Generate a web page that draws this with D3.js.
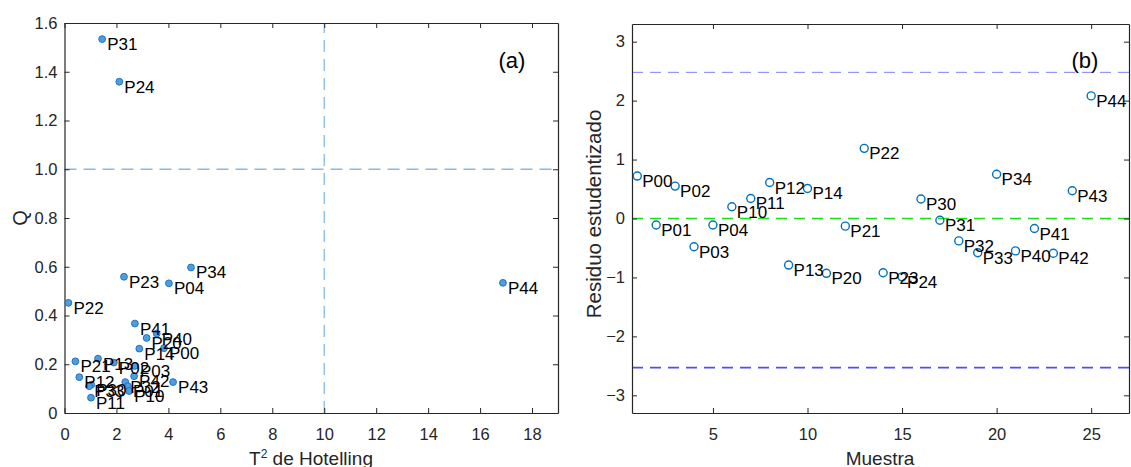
<!DOCTYPE html>
<html>
<head>
<meta charset="utf-8">
<script src="https://cdn.jsdelivr.net/npm/d3@7"></script>
<style>
  body { margin: 0; background: #fff; }
  svg text { font-family: "Liberation Sans", Arial, sans-serif; }
</style>
</head>
<body>
<div id="chart"></div>
<script>
// panel (a): T2 vs Q  (hidden labels first so the visible ones draw on top)
const pointLabels = ["P30", "P32", "P01", "P31", "P24", "P23", "P04", "P34", "P44", "P22", "P41", "P40", "P20",
                     "P14", "P00", "P21", "P13", "P02", "P03", "P12", "P33", "P11", "P10", "P42", "P43"];
const t2Values = [1.03, 2.34, 2.44, 1.45, 2.11, 2.29, 4.02, 4.87, 16.88, 0.15, 2.71, 3.55, 3.16,
                  2.88, 3.83, 0.42, 1.29, 1.90, 2.71, 0.57, 0.95, 1.02, 2.49, 2.68, 4.18];
const qValues = [0.116, 0.127, 0.110, 1.534, 1.359, 0.559, 0.532, 0.597, 0.534, 0.452, 0.367, 0.326, 0.308,
                 0.264, 0.266, 0.212, 0.223, 0.207, 0.193, 0.147, 0.110, 0.063, 0.090, 0.151, 0.127];
const t2Limit = 10;
const qLimit = 1.0;

// panel (b): studentized residuals per sample
const sampleLabels = ["P00", "P01", "P02", "P03", "P04", "P10", "P11", "P12", "P13", "P14",
                      "P20", "P21", "P22", "P23", "P24", "P30", "P31", "P32", "P33", "P34",
                      "P40", "P41", "P42", "P43", "P44"];
const residValues = [0.72, -0.11, 0.55, -0.48, -0.11, 0.20, 0.34, 0.61, -0.79, 0.51,
                     -0.93, -0.13, 1.19, -0.92, -0.99, 0.33, -0.03, -0.38, -0.58, 0.75,
                     -0.55, -0.17, -0.59, 0.47, 2.08];
const residUpper = 2.48;
const residLower = -2.53;

// ticks
const t2Ticks = [0, 2, 4, 6, 8, 10, 12, 14, 16, 18];
const qTicks = [0, 0.2, 0.4, 0.6, 0.8, 1.0, 1.2, 1.4, 1.6];
const sampleTicks = [5, 10, 15, 20, 25];
const residTicks = [-3, -2, -1, 0, 1, 2, 3];

const W = 1131, H = 467;
const axisColor = "#262626";

const svg = d3.select("#chart").append("svg")
    .attr("width", W)
    .attr("height", H);

function drawFrame(g, x, y, xTicks, yTicks, xFmt, yFmt) {
    const [x0, x1] = x.range();
    const [y0, y1] = y.range();

    g.append("g")
        .attr("transform", "translate(0," + y0 + ")")
        .call(d3.axisBottom(x).tickValues(xTicks).tickFormat(xFmt)
              .tickSizeInner(-5).tickSizeOuter(0).tickPadding(15));
    g.append("g")
        .attr("transform", "translate(0," + y1 + ")")
        .call(d3.axisTop(x).tickValues(xTicks).tickFormat("")
              .tickSizeInner(-5).tickSizeOuter(0));
    g.append("g")
        .attr("transform", "translate(" + x0 + ",0)")
        .call(d3.axisLeft(y).tickValues(yTicks).tickFormat(yFmt)
              .tickSizeInner(-5).tickSizeOuter(0).tickPadding(7));
    g.append("g")
        .attr("transform", "translate(" + x1 + ",0)")
        .call(d3.axisRight(y).tickValues(yTicks).tickFormat("")
              .tickSizeInner(-5).tickSizeOuter(0));

    g.selectAll(".domain").attr("stroke", axisColor).attr("stroke-width", 1.2);
    g.selectAll(".tick line").attr("stroke", axisColor);
    g.selectAll(".tick text")
        .attr("fill", axisColor)
        .style("font-size", "16.5px")
        .style("font-family", "'Liberation Sans', Arial, sans-serif");
}

// ---------- panel (a)
const xa = d3.scaleLinear().domain([0, 19]).range([64.5, 558]);
const ya = d3.scaleLinear().domain([0, 1.6]).range([413, 23]);
const ga = svg.append("g");

ga.append("line")
    .attr("x1", xa(t2Limit)).attr("x2", xa(t2Limit))
    .attr("y1", ya(0)).attr("y2", ya(1.6))
    .attr("stroke", "#86bbe6").attr("stroke-width", 1.3)
    .attr("stroke-dasharray", "12,7");
ga.append("line")
    .attr("x1", xa(0)).attr("x2", xa(19))
    .attr("y1", ya(qLimit)).attr("y2", ya(qLimit))
    .attr("stroke", "#86bbe6").attr("stroke-width", 1.3)
    .attr("stroke-dasharray", "12,7");

drawFrame(ga, xa, ya, t2Ticks, qTicks, d3.format("d"),
          d => d === 0 ? "0" : d3.format(".1f")(d));

const ptsA = pointLabels.map((lab, i) => ({ label: lab, t2: t2Values[i], q: qValues[i] }));

ga.selectAll("circle.pt")
    .data(ptsA)
    .enter().append("circle")
    .attr("class", "pt")
    .attr("cx", d => xa(d.t2))
    .attr("cy", d => ya(d.q))
    .attr("r", 3.4)
    .attr("fill", "#4d9de0")
    .attr("stroke", "#1f74c4")
    .attr("stroke-width", 1);

ga.selectAll("text.lab")
    .data(ptsA)
    .enter().append("text")
    .attr("class", "lab")
    .attr("x", d => xa(d.t2) + 5)
    .attr("y", d => ya(d.q) + 11)
    .attr("font-size", "17px")
    .attr("fill", "#000")
    .text(d => d.label);

ga.append("text")
    .attr("x", 512).attr("y", 68)
    .attr("text-anchor", "middle")
    .attr("font-size", "22px")
    .text("(a)");

ga.append("text")
    .attr("transform", "translate(27,218) rotate(-90)")
    .attr("text-anchor", "middle")
    .attr("font-size", "20px")
    .attr("fill", axisColor)
    .text("Q");

const xt = ga.append("text")
    .attr("x", 311).attr("y", 465)
    .attr("text-anchor", "middle")
    .attr("font-size", "19px")
    .attr("fill", axisColor);
xt.append("tspan").text("T");
xt.append("tspan").attr("dy", -7).attr("font-size", "12px").text("2");
xt.append("tspan").attr("dy", 7).text(" de Hotelling");

// ---------- panel (b)
const xb = d3.scaleLinear().domain([0.72, 27.0]).range([632, 1129]);
const yb = d3.scaleLinear().domain([-3.3, 3.3]).range([413, 24]);
const gb = svg.append("g");

gb.append("line")
    .attr("x1", xb(0.72)).attr("x2", xb(27))
    .attr("y1", yb(residUpper)).attr("y2", yb(residUpper))
    .attr("stroke", "#7f7fff").attr("stroke-width", 1)
    .attr("stroke-dasharray", "11,7");
gb.append("line")
    .attr("x1", xb(0.72)).attr("x2", xb(27))
    .attr("y1", yb(0)).attr("y2", yb(0))
    .attr("stroke", "#19e019").attr("stroke-width", 1.5)
    .attr("stroke-dasharray", "11,7");
gb.append("line")
    .attr("x1", xb(0.72)).attr("x2", xb(27))
    .attr("y1", yb(residLower)).attr("y2", yb(residLower))
    .attr("stroke", "#4f4fee").attr("stroke-width", 1.6)
    .attr("stroke-dasharray", "11,7");

drawFrame(gb, xb, yb, sampleTicks, residTicks, d3.format("d"), d3.format("d"));

const ptsB = sampleLabels.map((lab, i) => ({ label: lab, n: i + 1, r: residValues[i] }));

gb.selectAll("circle.pt")
    .data(ptsB)
    .enter().append("circle")
    .attr("class", "pt")
    .attr("cx", d => xb(d.n))
    .attr("cy", d => yb(d.r))
    .attr("r", 4)
    .attr("fill", "none")
    .attr("stroke", "#0072bd")
    .attr("stroke-width", 1.4);

gb.selectAll("text.lab")
    .data(ptsB)
    .enter().append("text")
    .attr("class", "lab")
    .attr("x", d => xb(d.n) + 5)
    .attr("y", d => yb(d.r) + 11)
    .attr("font-size", "17px")
    .attr("fill", "#000")
    .text(d => d.label);

gb.append("text")
    .attr("x", 1085).attr("y", 68)
    .attr("text-anchor", "middle")
    .attr("font-size", "22px")
    .text("(b)");

gb.append("text")
    .attr("transform", "translate(601,214) rotate(-90)")
    .attr("text-anchor", "middle")
    .attr("font-size", "20.5px")
    .attr("fill", axisColor)
    .text("Residuo estudentizado");

gb.append("text")
    .attr("x", 880).attr("y", 465)
    .attr("text-anchor", "middle")
    .attr("font-size", "19px")
    .attr("fill", axisColor)
    .text("Muestra");
</script>
</body>
</html>
